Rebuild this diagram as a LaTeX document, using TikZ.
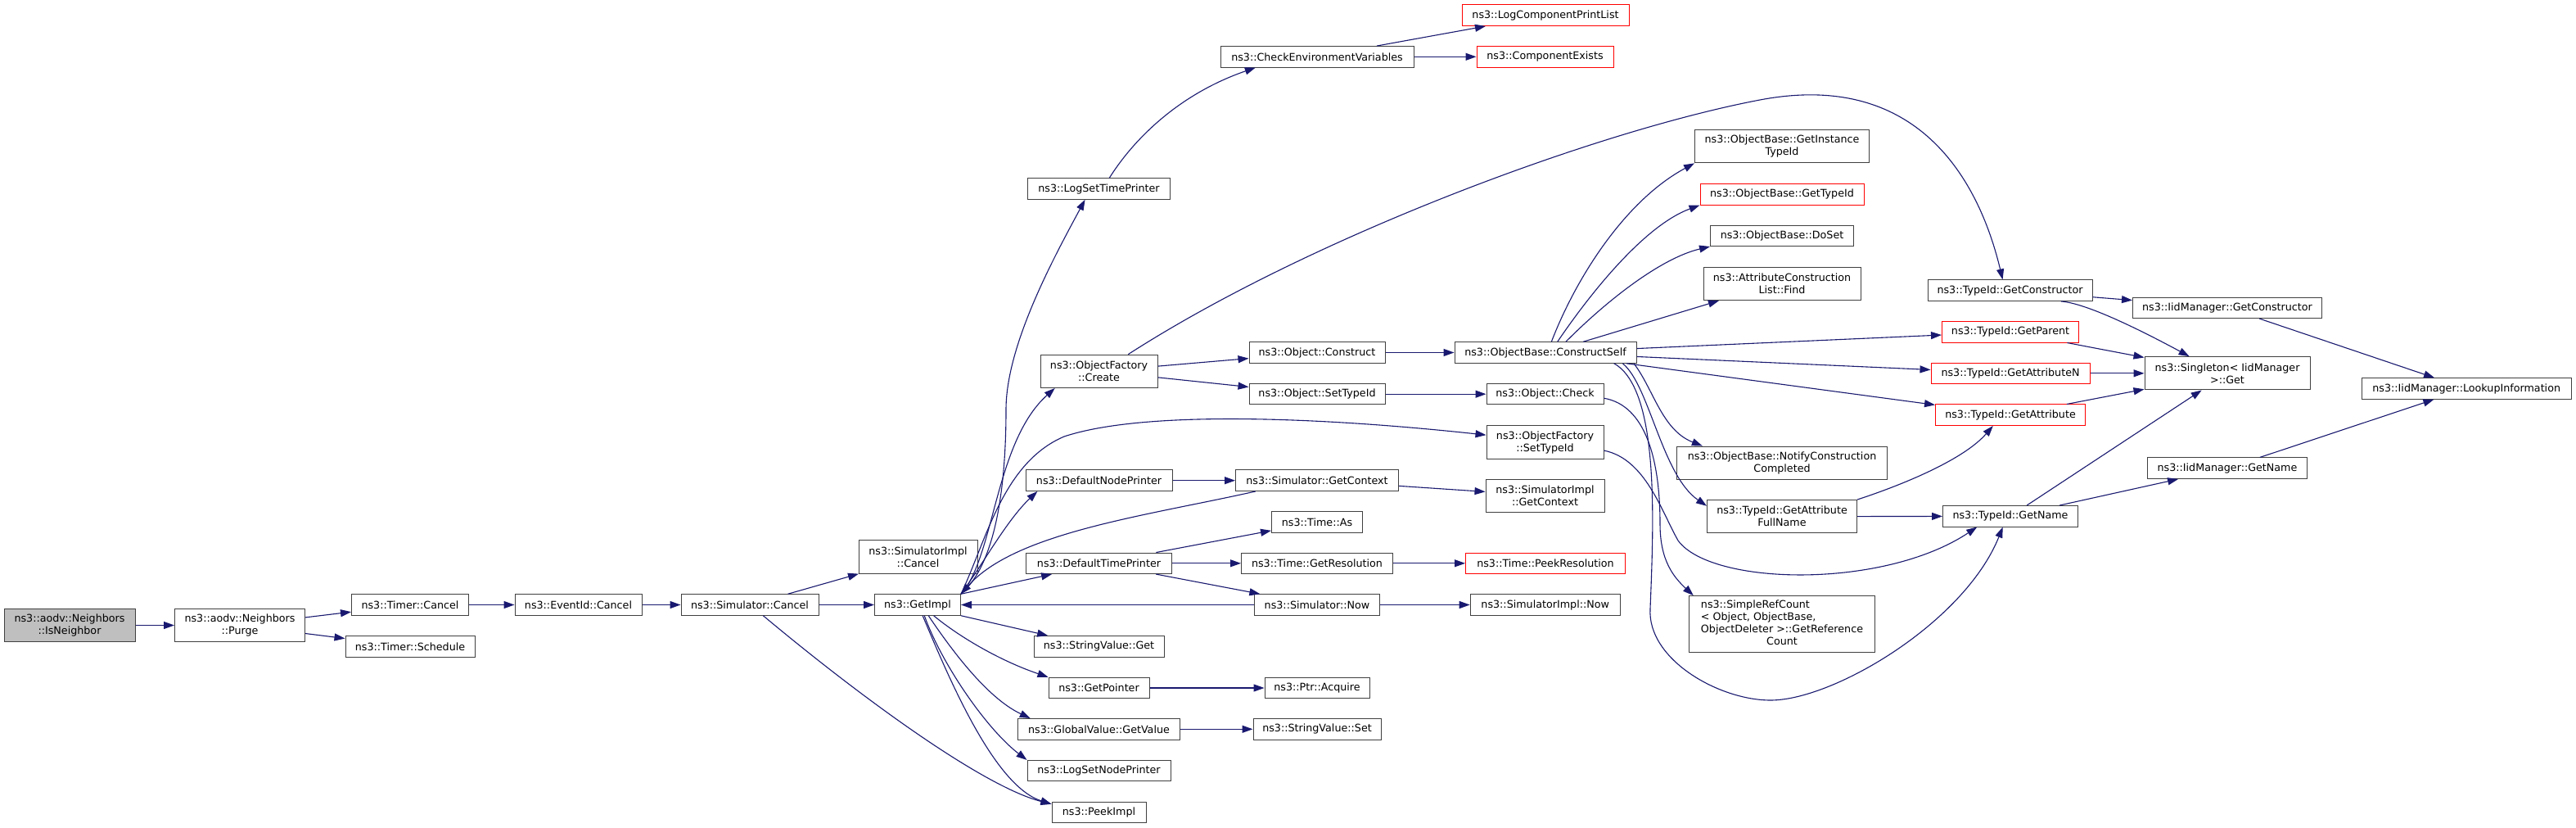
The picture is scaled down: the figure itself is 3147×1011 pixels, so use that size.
\documentclass[tikz,border=0pt]{standalone}
\usepackage{fontspec}
\setmainfont{DejaVu Sans}
\usepackage{xcolor}
\usepackage{tikz}
\usetikzlibrary{arrows.meta}

\definecolor{edgeblue}{HTML}{191970}
\definecolor{boxgray}{HTML}{404040}
\definecolor{rootfill}{HTML}{BFBFBF}
\definecolor{truncred}{HTML}{FF0000}

\begin{document}
\begin{tikzpicture}[x=1pt, y=-1pt,
    fnbox/.style={draw=boxgray, fill=white, line width=1pt, minimum height=25.5pt,
      inner xsep=2pt, inner ysep=2pt, align=center, font=\fontsize{12.7}{15}\selectfont},
    twoline/.style={minimum height=40.3pt},
    redbox/.style={fnbox, draw=truncred},
    rootbox/.style={fnbox, fill=rootfill},
    call/.style={draw=edgeblue, line width=1.1pt, -{Triangle[length=13pt,width=9pt]}}]

        % page (white, fixes the size)
        \path[use as bounding box, fill=white] (0,0) rectangle (3147,1011);

        % Caller chain down to GetImpl
        \node[rootbox, twoline, minimum width=160pt] (isnb) at (85,763.5) {ns3::aodv::Neighbors\\::IsNeighbor};
        \node[fnbox, twoline, minimum width=159pt] (purge) at (293,763.5) {ns3::aodv::Neighbors\\::Purge};
        \node[fnbox, minimum width=143pt] (tcancel) at (501,738.5) {ns3::Timer::Cancel};
        \node[fnbox, minimum width=158pt] (tsched) at (501,789.5) {ns3::Timer::Schedule};
        \node[fnbox, minimum width=155pt] (evcancel) at (706.5,738.5) {ns3::EventId::Cancel};
        \node[fnbox, minimum width=168pt] (simcancel) at (916,738.5) {ns3::Simulator::Cancel};
        \node[fnbox, twoline, minimum width=145pt] (implcancel) at (1121.5,680) {ns3::SimulatorImpl\\::Cancel};
        \node[fnbox, minimum width=105pt] (getimpl) at (1121,738.5) {ns3::GetImpl};

        % Functions called by GetImpl
        \node[fnbox, minimum width=174pt] (logtime) at (1342.5,230.5) {ns3::LogSetTimePrinter};
        \node[fnbox, twoline, minimum width=143pt] (ofcreate) at (1342.5,453.3) {ns3::ObjectFactory\\::Create};
        \node[fnbox, minimum width=179pt] (nodeprinter) at (1342.5,586.7) {ns3::DefaultNodePrinter};
        \node[fnbox, minimum width=178pt] (timeprinter) at (1342.5,687.8) {ns3::DefaultTimePrinter};
        \node[fnbox, minimum width=159pt] (strget) at (1342.5,789.3) {ns3::StringValue::Get};
        \node[fnbox, minimum width=123pt] (getptr) at (1342.5,840) {ns3::GetPointer};
        \node[fnbox, minimum width=198pt] (gvget) at (1342.5,890.3) {ns3::GlobalValue::GetValue};
        \node[fnbox, minimum width=175pt] (nodeprinterset) at (1342.5,941.2) {ns3::LogSetNodePrinter};
        \node[fnbox, minimum width=115pt] (peekimpl) at (1342.5,992) {ns3::PeekImpl};

        % Next column
        \node[fnbox, minimum width=236pt] (checkenv) at (1609,69.3) {ns3::CheckEnvironmentVariables};
        \node[fnbox, minimum width=166pt] (objconstruct) at (1609,430.5) {ns3::Object::Construct};
        \node[fnbox, minimum width=166pt] (objsettid) at (1609,481.2) {ns3::Object::SetTypeId};
        \node[fnbox, minimum width=199pt] (simgetctx) at (1609,586.7) {ns3::Simulator::GetContext};
        \node[fnbox, minimum width=111pt] (timeas) at (1609,637.3) {ns3::Time::As};
        \node[fnbox, minimum width=185pt] (getres) at (1609,687.8) {ns3::Time::GetResolution};
        \node[fnbox, minimum width=153pt] (simnow) at (1609,738.5) {ns3::Simulator::Now};
        \node[fnbox, minimum width=128pt] (ptracq) at (1609,840) {ns3::Ptr::Acquire};
        \node[fnbox, minimum width=156pt] (strset) at (1609,890.3) {ns3::StringValue::Set};

        \node[redbox, minimum width=204pt] (logprint) at (1888,18.7) {ns3::LogComponentPrintList};
        \node[redbox, minimum width=167pt] (compexists) at (1887.5,69.3) {ns3::ComponentExists};
        \node[fnbox, minimum width=222pt] (constructself) at (1888,430.5) {ns3::ObjectBase::ConstructSelf};
        \node[fnbox, minimum width=143pt] (objcheck) at (1887.5,481.2) {ns3::Object::Check};
        \node[fnbox, twoline, minimum width=143pt] (ofsettid) at (1887.5,540) {ns3::ObjectFactory\\::SetTypeId};
        \node[fnbox, twoline, minimum width=145pt] (implgetctx) at (1887.5,605.3) {ns3::SimulatorImpl\\::GetContext};
        \node[redbox, minimum width=195pt] (peekres) at (1888,687.8) {ns3::Time::PeekResolution};
        \node[fnbox, minimum width=183pt] (implnow) at (1887.7,738.5) {ns3::SimulatorImpl::Now};

        % ObjectBase and TypeId helpers
        \node[fnbox, twoline, minimum width=213pt] (instancetid) at (2177,178.7) {ns3::ObjectBase::GetInstance\\TypeId};
        \node[redbox, minimum width=200pt] (gettid) at (2177,237.3) {ns3::ObjectBase::GetTypeId};
        \node[fnbox, minimum width=175pt] (doset) at (2177,287.8) {ns3::ObjectBase::DoSet};
        \node[fnbox, twoline, minimum width=192pt] (acfind) at (2177,346.5) {ns3::AttributeConstruction\\List::Find};
        \node[fnbox, twoline, minimum width=257pt] (notify) at (2177,565.2) {ns3::ObjectBase::NotifyConstruction\\Completed};
        \node[fnbox, twoline, minimum width=183pt] (fullname) at (2177,630.7) {ns3::TypeId::GetAttribute\\FullName};
        \node[fnbox, minimum width=227pt, minimum height=69.3pt] (refcount) at (2177,762.3)
          {\begin{tabular}{@{}l@{}}ns3::SimpleRefCount\\< Object, ObjectBase,\\
           \multicolumn{1}{@{}c@{}}{ObjectDeleter >::GetReference}\\
           \multicolumn{1}{@{}c@{}}{Count}\end{tabular}};

        \node[fnbox, minimum width=201pt] (tidctor) at (2455.5,354.7) {ns3::TypeId::GetConstructor};
        \node[redbox, minimum width=167pt] (tidparent) at (2456,405.3) {ns3::TypeId::GetParent};
        \node[redbox, minimum width=194pt] (tidattrn) at (2456,455.8) {ns3::TypeId::GetAttributeN};
        \node[redbox, minimum width=183pt] (tidattr) at (2456,506.7) {ns3::TypeId::GetAttribute};
        \node[fnbox, minimum width=165pt] (tidname) at (2456,630.3) {ns3::TypeId::GetName};

        \node[fnbox, minimum width=231pt] (iidctor) at (2721,375.8) {ns3::IidManager::GetConstructor};
        \node[fnbox, twoline, minimum width=202pt] (singleton) at (2721,455.8) {ns3::Singleton< IidManager\\>::Get};
        \node[fnbox, minimum width=195pt] (iidname) at (2721,571.7) {ns3::IidManager::GetName};
        \node[fnbox, minimum width=256pt] (lookup) at (3013.2,474.5) {ns3::IidManager::LookupInformation};

        % Caller chain
        \draw[call] (isnb) -- (purge);
        \draw[call] (purge) -- (tcancel);
        \draw[call] (purge) -- (tsched);
        \draw[call] (tcancel) -- (evcancel);
        \draw[call] (evcancel) -- (simcancel);
        \draw[call] (simcancel) -- (implcancel);
        \draw[call] (simcancel) -- (getimpl);
        \draw[call] (simcancel.321) .. controls (1050,850) and (1200,960) .. (peekimpl.170);

        % Out of GetImpl
        \draw[call] (getimpl.north east) .. controls (1215,690) and (1229,600) .. (1229,500)
          .. controls (1229,420) and (1290,310) .. (logtime.218);
        \draw[call] (getimpl.north east) .. controls (1215,680) and (1215,540) .. (ofcreate.201);
        \draw[call] (getimpl.north east) .. controls (1205,660) and (1225,565) .. (1300,533)
          .. controls (1400,500) and (1620,510) .. (ofsettid.173);
        \draw[call] (getimpl.north east) .. controls (1200,690) and (1230,635) .. (nodeprinter.190);
        \draw[call] (getimpl.north east) -- (timeprinter.193);
        \draw[call] (getimpl.south east) -- (strget.168);
        \draw[call] (getimpl.326) .. controls (1175,780) and (1225,808) .. (getptr.north west);
        \draw[call] (getimpl.315) .. controls (1160,790) and (1205,852) .. (gvget.171);
        \draw[call] (getimpl.302) .. controls (1150,810) and (1205,890) .. (nodeprinterset.north west);
        \draw[call] (getimpl.295) .. controls (1160,830) and (1215,960) .. (peekimpl.170);

        % Back into GetImpl
        \draw[call] (simgetctx.190) .. controls (1400,630) and (1240,650) .. (getimpl.north east);
        \draw[call] (simnow) -- (getimpl);

        % Logging and printers
        \draw[call] (logtime.46) .. controls (1385,170) and (1440,115) .. (checkenv.190);
        \draw[call] (checkenv) -- (logprint);
        \draw[call] (checkenv) -- (compexists);
        \draw[call] (nodeprinter) -- (simgetctx);
        \draw[call] (simgetctx) -- (implgetctx);
        \draw[call] (timeprinter) -- (timeas);
        \draw[call] (timeprinter) -- (getres);
        \draw[call] (timeprinter) -- (simnow);
        \draw[call] (getres) -- (peekres);
        \draw[call] (simnow) -- (implnow);
        \draw[call] (getptr) -- (ptracq);
        \draw[call] (gvget) -- (strset);

        % Object factory
        \draw[call] (ofcreate) -- (objconstruct);
        \draw[call] (ofcreate) -- (objsettid);
        \draw[call] (ofcreate.30) .. controls (1600,290) and (1950,160) .. (2150,122)
          .. controls (2350,84) and (2420,230) .. (tidctor.124);
        \draw[call] (objconstruct) -- (constructself);
        \draw[call] (objsettid) -- (objcheck);

        % ConstructSelf
        \draw[call] (constructself.61) .. controls (1925,340) and (1985,245) .. (instancetid.south west);
        \draw[call] (constructself.42) .. controls (1945,355) and (2010,275) .. (gettid.south west);
        \draw[call] (constructself.28) .. controls (1965,365) and (2030,315) .. (doset.south west);
        \draw[call] (constructself.16) -- (acfind.195);
        \draw[call] (constructself) -- (tidparent);
        \draw[call] (constructself) -- (tidattrn);
        \draw[call] (constructself) -- (tidattr);
        \draw[call] (constructself.353) .. controls (2020,475) and (2030,525) .. (notify.168);
        \draw[call] (constructself.352) .. controls (2015,470) and (2030,580) .. (fullname.172);
        \draw[call] (constructself.351) .. controls (2028,475) and (2020,640) .. (2016,743)
          .. controls (2012,805) and (2100,855) .. (2163,855)
          .. controls (2240,855) and (2400,760) .. (tidname.235);
        \draw[call] (objcheck.356) .. controls (2010,495) and (2028,560) .. (2028,640)
          .. controls (2028,685) and (2045,705) .. (refcount.162);
        \draw[call] (ofsettid.352) .. controls (2010,560) and (2030,625) .. (2050,660)
          .. controls (2090,715) and (2300,720) .. (tidname.198);
        \draw[call] (fullname.north east) .. controls (2330,590) and (2400,560) .. (tidattr.212);
        \draw[call] (fullname) -- (tidname);

        % TypeId to IidManager
        \draw[call] (tidctor) -- (iidctor);
        \draw[call] (tidctor.348) .. controls (2545,370) and (2600,395) .. (singleton.156);
        \draw[call] (tidparent) -- (singleton);
        \draw[call] (tidattrn) -- (singleton);
        \draw[call] (tidattr) -- (singleton);
        \draw[call] (tidname) -- (singleton);
        \draw[call] (tidname) -- (iidname);
        \draw[call] (iidctor) -- (lookup);
        \draw[call] (iidname) -- (lookup);

\end{tikzpicture}
\end{document}
